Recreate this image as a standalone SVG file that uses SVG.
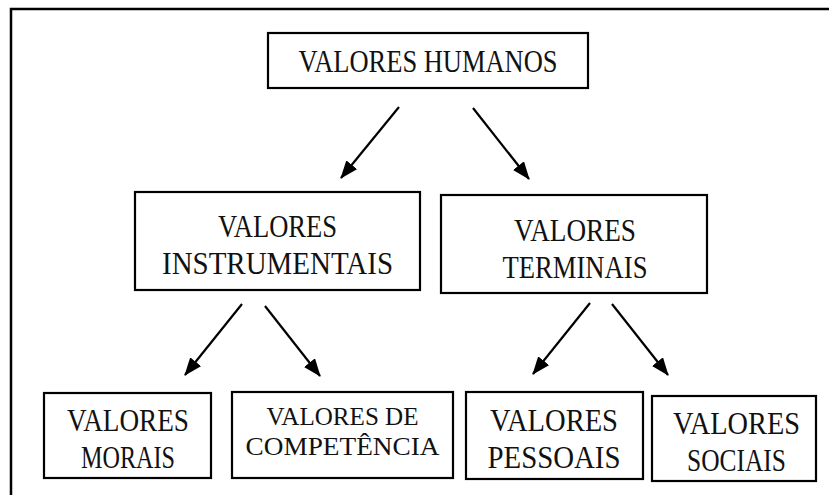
<svg xmlns="http://www.w3.org/2000/svg" width="829" height="495" viewBox="0 0 829 495">
<defs>
<style>
.box{fill:#fff;stroke:#000;stroke-width:2.2}
.t{font-family:'Liberation Serif','Times New Roman','DejaVu Serif',serif;font-size:32px;fill:#111;text-anchor:middle}
.s{font-size:26px}
.c{stroke:#000;stroke-width:2.2;fill:none;marker-end:url(#ah)}
</style>
<marker id="ah" markerWidth="18" markerHeight="14" refX="17" refY="7" orient="auto" markerUnits="userSpaceOnUse" viewBox="0 0 18 14">
<path d="M0,0 L18,7 L0,14 z" fill="#000"/>
</marker>
</defs>
<rect width="829" height="495" fill="#fff"/>
<path d="M11,495 L11,9 L829,9" fill="none" stroke="#000" stroke-width="2.5"/>
<g id="connectors">
<line class="c" x1="399" y1="107" x2="341" y2="178"/>
<line class="c" x1="473" y1="108" x2="529" y2="179"/>
<line class="c" x1="242" y1="304" x2="185" y2="375"/>
<line class="c" x1="265" y1="306" x2="320" y2="376"/>
<line class="c" x1="590" y1="303" x2="533" y2="374"/>
<line class="c" x1="612" y1="304" x2="668" y2="375"/>
</g>
<g id="n-humanos">
<rect class="box" x="268" y="33" width="320" height="55"/>
<text class="t" x="428" y="72" textLength="259" lengthAdjust="spacingAndGlyphs">VALORES HUMANOS</text>
</g>
<g id="n-instrumentais">
<rect class="box" x="135" y="192" width="285" height="98"/>
<text class="t" x="277.5" y="237" textLength="119" lengthAdjust="spacingAndGlyphs">VALORES</text>
<text class="t" x="277.5" y="274" textLength="231" lengthAdjust="spacingAndGlyphs">INSTRUMENTAIS</text>
</g>
<g id="n-terminais">
<rect class="box" x="441" y="195" width="266" height="98"/>
<text class="t" x="575" y="241" textLength="122" lengthAdjust="spacingAndGlyphs">VALORES</text>
<text class="t" x="575" y="278" textLength="145" lengthAdjust="spacingAndGlyphs">TERMINAIS</text>
</g>
<g id="n-morais">
<rect class="box" x="44" y="393" width="167" height="85"/>
<text class="t" x="128" y="431" textLength="122" lengthAdjust="spacingAndGlyphs">VALORES</text>
<text class="t" x="128" y="468" textLength="94" lengthAdjust="spacingAndGlyphs">MORAIS</text>
</g>
<g id="n-competencia">
<rect class="box" x="232" y="392" width="221" height="86"/>
<text class="t s" x="342.5" y="425" textLength="152" lengthAdjust="spacingAndGlyphs">VALORES DE</text>
<text class="t s" x="342.5" y="455" textLength="194" lengthAdjust="spacingAndGlyphs">COMPETÊNCIA</text>
</g>
<g id="n-pessoais">
<rect class="box" x="466" y="392" width="177" height="87"/>
<text class="t" x="554" y="431" textLength="128" lengthAdjust="spacingAndGlyphs">VALORES</text>
<text class="t" x="554" y="468" textLength="133" lengthAdjust="spacingAndGlyphs">PESSOAIS</text>
</g>
<g id="n-sociais">
<rect class="box" x="652" y="396" width="164" height="85"/>
<text class="t" x="736.5" y="434" textLength="127" lengthAdjust="spacingAndGlyphs">VALORES</text>
<text class="t" x="736.5" y="471" textLength="99" lengthAdjust="spacingAndGlyphs">SOCIAIS</text>
</g>
</svg>
